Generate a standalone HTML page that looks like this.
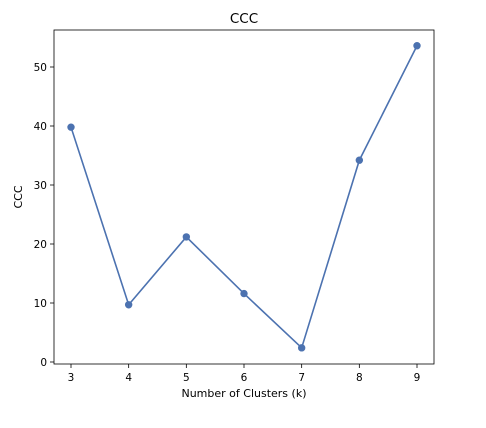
<!DOCTYPE html>
<html><head><meta charset="utf-8"><style>
body{margin:0;background:#fff;width:486px;height:423px;overflow:hidden}
text{font-family:"DejaVu Sans","Liberation Sans",sans-serif;fill:#000}
</style></head><body>
<svg id="chart" width="486" height="423" xmlns="http://www.w3.org/2000/svg">
<text x="244" y="23" font-size="13.5" text-anchor="middle">CCC</text>
<g id="axes"></g>
<text x="244" y="397" font-size="11" text-anchor="middle">Number of Clusters (k)</text>
<text transform="translate(22,197) rotate(-90)" font-size="11" text-anchor="middle">CCC</text>
</svg>
<script>
const categories=[3,4,5,6,7,8,9];
const cccValues=[39.8,9.7,21.2,11.6,2.4,34.2,53.6];
const yTicks=[0,10,20,30,40,50];
const L=54,R=434,T=30,B=364;
const xs=k=>71+(k-3)*(417-71)/6;
const ys=v=>362-v*(362-67)/50;
const NS="http://www.w3.org/2000/svg";
const g=document.getElementById('axes');
function mk(tag,attrs){const e=document.createElementNS(NS,tag);for(const k in attrs)e.setAttribute(k,attrs[k]);g.appendChild(e);return e;}
categories.forEach(k=>{
 const t=mk('line',{x1:xs(k),x2:xs(k),y1:B,y2:B+4,stroke:'#000','stroke-width':0.8});
 
 
 const l=mk('text',{x:xs(k),y:B+17,'font-size':10.5,'text-anchor':'middle'});l.textContent=k;
 
 
});
yTicks.forEach(v=>{
 const t=mk('line',{x1:L-4,x2:L,y1:ys(v),y2:ys(v),stroke:'#000','stroke-width':0.8});
 
 
 const l=mk('text',{x:L-7,y:ys(v)+4,'font-size':10.5,'text-anchor':'end'});l.textContent=v;
 
 
});
const line=mk('polyline',{points:categories.map((k,i)=>xs(k)+','+ys(cccValues[i])).join(' '),fill:'none',stroke:'#4c72b0','stroke-width':1.6});


categories.forEach((k,i)=>{
 const c=mk('circle',{cx:xs(k),cy:ys(cccValues[i]),r:3.7,fill:'#4c72b0'});
 
 
});
const f=mk('rect',{x:L,y:T,width:R-L,height:B-T,fill:'none',stroke:'#000','stroke-width':0.8});


</script>
</body></html>
